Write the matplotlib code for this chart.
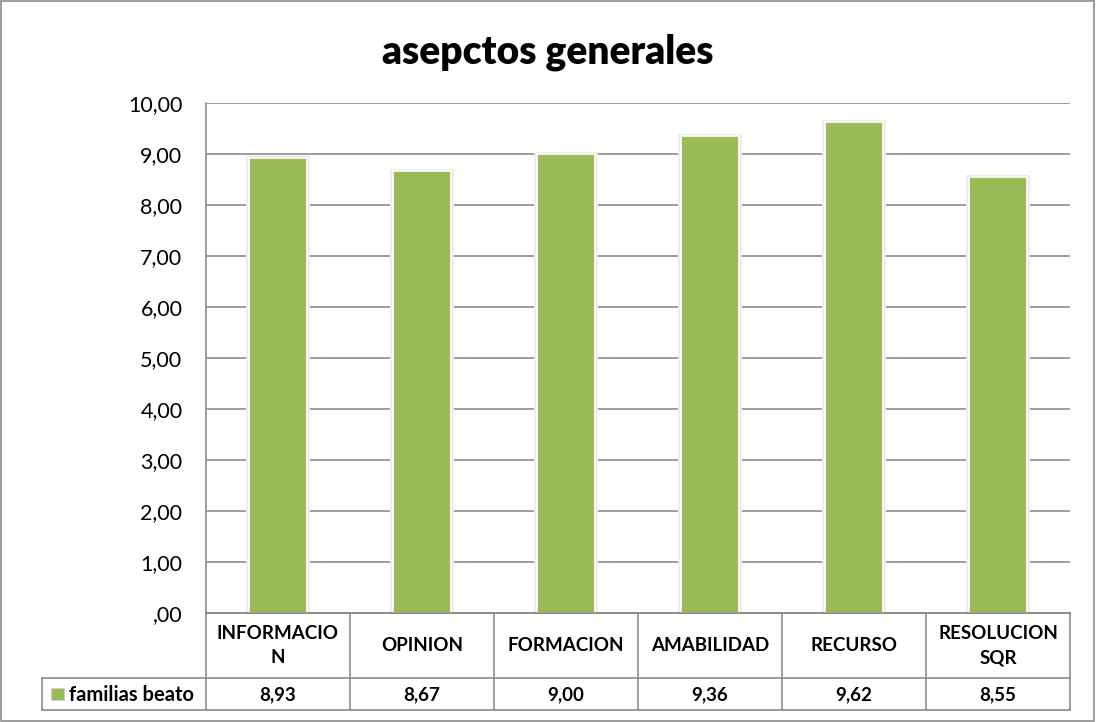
import matplotlib.pyplot as plt
from matplotlib.patches import Rectangle
from matplotlib.lines import Line2D

plt.rcParams['font.family'] = ['Lato', 'DejaVu Sans']

categories = ['INFORMACIO\nN', 'OPINION', 'FORMACION', 'AMABILIDAD', 'RECURSO', 'RESOLUCION\nSQR']
values = [8.93, 8.67, 9.00, 9.36, 9.62, 8.55]
series_name = 'familias beato'
title = 'asepctos generales'

W, H = 1096, 722
fig = plt.figure(figsize=(W / 100, H / 100), dpi=100)

def fx(px):
    return px / W

def fy(py):
    return 1 - py / H

# plot area in pixels
L, R, T, B = 206, 1070, 103, 613
ax = fig.add_axes([fx(L), fy(B), fx(R - L), fy(T) - fy(B)])

grid_c = '#8c8c8c'
green = '#9bbb59'
x = list(range(len(categories)))
# soft glow round the bars
ax.bar(x, [v + 0.04 for v in values], width=0.44, color='#ececec', zorder=2)
ax.bar(x, values, width=0.40, color=green, edgecolor='white', linewidth=1.2, zorder=3)

ax.set_xlim(-0.5, len(categories) - 0.5)
ax.set_ylim(0, 10)
ax.set_yticks(range(0, 11))
ax.set_yticklabels([',00'] + [f'{v},00' for v in range(1, 11)], fontsize=15.5)
ax.set_xticks([])
ax.tick_params(axis='y', length=0, pad=17)
ax.grid(axis='y', color=grid_c, linewidth=1.2, zorder=0)
for s in ['top', 'right']:
    ax.spines[s].set_visible(False)
for s in ['left', 'bottom']:
    ax.spines[s].set_color(grid_c)
    ax.spines[s].set_linewidth(1.2)

fig.text(0.5, fy(52), title, ha='center', va='center', fontsize=28, fontweight='heavy')

# data table
row1_top, row1_bot, row2_bot = 613, 678, 710
leg_left = 42
col_w = (R - L) / len(categories)
lw = 1.2
def hline(y, x0, x1):
    fig.add_artist(Line2D([fx(x0), fx(x1)], [fy(y), fy(y)], color=grid_c, lw=lw))

def vline(xp, y0, y1):
    fig.add_artist(Line2D([fx(xp), fx(xp)], [fy(y0), fy(y1)], color=grid_c, lw=lw))

hline(row1_top, L, R)
hline(row1_bot, leg_left, R)
hline(row2_bot, leg_left, R)
vline(leg_left, row1_bot, row2_bot)
for i in range(len(categories) + 1):
    vline(L + i * col_w, row1_top, row2_bot)

for i, (c, v) in enumerate(zip(categories, values)):
    cx = L + (i + 0.5) * col_w
    fig.text(fx(cx), fy((row1_top + row1_bot) / 2), c, ha='center', va='center',
             fontsize=13.5, fontweight='bold', linespacing=1.5)
    fig.text(fx(cx), fy((row1_bot + row2_bot) / 2 + 1), f'{v:.2f}'.replace('.', ','),
             ha='center', va='center', fontsize=13.5, fontweight='bold')

# legend key in the table
fig.add_artist(Rectangle((fx(51), fy(700)), fx(13), fy(688) - fy(700),
                         facecolor=green, edgecolor='#d0d0d0', lw=0.6))
fig.text(fx(69), fy((row1_bot + row2_bot) / 2 + 1), series_name, ha='left', va='center',
         fontsize=14.5, fontweight='bold')

# outer chart border
fig.add_artist(Rectangle((fx(1), fy(H - 1)), fx(W - 3), fy(1) - fy(H - 1),
                         fill=False, edgecolor='#8c8c8c', lw=1.2))

fig.savefig('out.png', dpi=100)
